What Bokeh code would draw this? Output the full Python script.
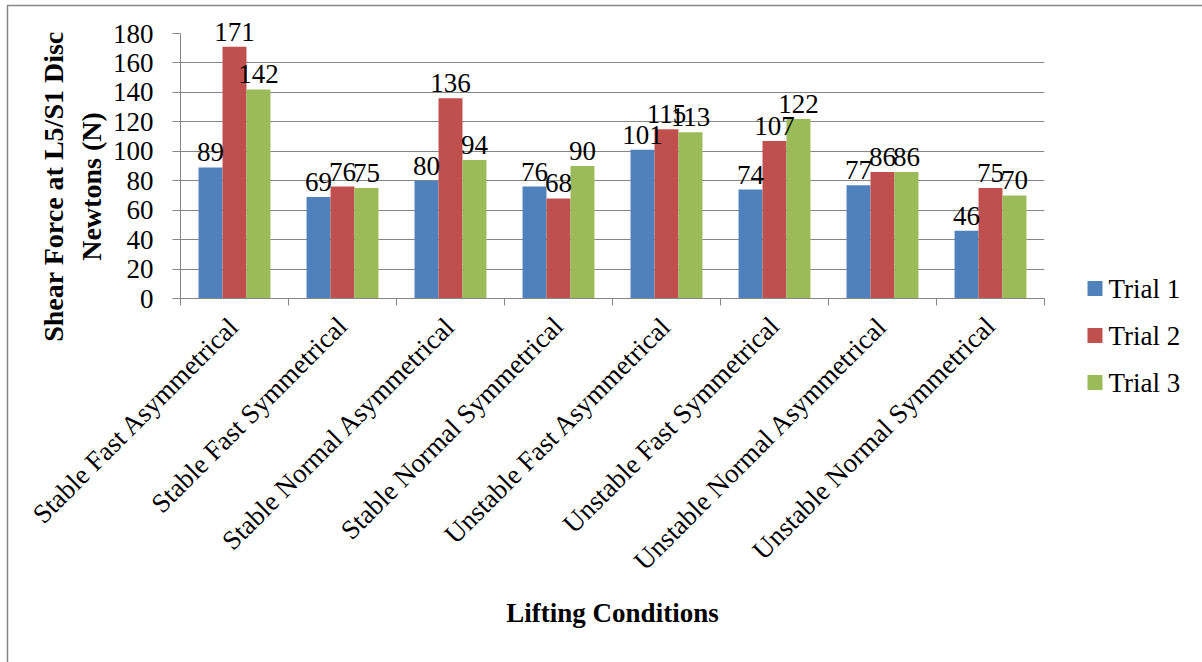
import math

from bokeh.plotting import figure
from bokeh.models import ColumnDataSource, Range1d, FixedTicker
from bokeh.transform import dodge
from bokeh.core.properties import value
from bokeh.embed import file_html
from bokeh.resources import INLINE

# Shear force at the L5/S1 disc (N) for each lifting condition and trial
conditions = [
    "Stable Fast Asymmetrical",
    "Stable Fast Symmetrical",
    "Stable Normal Asymmetrical",
    "Stable Normal Symmetrical",
    "Unstable Fast Asymmetrical",
    "Unstable Fast Symmetrical",
    "Unstable Normal Asymmetrical",
    "Unstable Normal Symmetrical",
]
trial_1 = [89, 69, 80, 76, 101, 74, 77, 46]
trial_2 = [171, 76, 136, 68, 115, 107, 86, 75]
trial_3 = [142, 75, 94, 90, 113, 122, 86, 70]
series_names = ["Trial 1", "Trial 2", "Trial 3"]
y_ticks = [0, 20, 40, 60, 80, 100, 120, 140, 160, 180]

FONT = "Liberation Serif"
GRAY = "#868686"
colors = ["#4F81BD", "#C0504D", "#9BBB59"]

W, H = 1202, 662
LEFT, RIGHT, TOP, BOTTOM = 180, 158, 33, 364
X0, X1 = 0.5, len(conditions) + 0.5
Y0, Y1 = 0, 180

positions = list(range(1, len(conditions) + 1))
src = ColumnDataSource(data=dict(
    pos=positions,
    t1=trial_1, t2=trial_2, t3=trial_3,
    l1=[str(v) for v in trial_1],
    l2=[str(v) for v in trial_2],
    l3=[str(v) for v in trial_3],
))

p = figure(width=W, height=H,
           x_range=Range1d(X0, X1), y_range=Range1d(Y0, Y1),
           output_backend="svg", toolbar_location=None,
           min_border_left=LEFT, min_border_right=RIGHT,
           min_border_top=TOP, min_border_bottom=BOTTOM)
p.background_fill_color = "white"
p.border_fill_color = "white"
p.outline_line_color = None

# pixel position on the canvas -> data coordinates (for decorations outside the frame)
fw = W - LEFT - RIGHT
fh = H - TOP - BOTTOM
def px_x(px):
    return X0 + (px - LEFT) * (X1 - X0) / fw
def px_y(py):
    return Y1 - (py - TOP) * (Y1 - Y0) / fh

bar_w = 0.222
offsets = [-bar_w, 0.0, bar_w]
for col, lab, off, c in zip(["t1", "t2", "t3"], ["l1", "l2", "l3"], offsets, colors):
    p.vbar(x=dodge("pos", off), top=col, width=bar_w, source=src,
           fill_color=c, line_color=None)
    # value labels above each bar; overlay level so they may pass the frame top
    p.text(x=dodge("pos", off), y=col, text=lab, source=src, level="overlay",
           y_offset=-15, text_align="center", text_baseline="alphabetic",
           text_font=value(FONT), text_font_size="27px", text_color="black")

# x axis: condition names at group centres, tick marks at group boundaries
xa = p.xaxis[0]
xa.ticker = FixedTicker(ticks=positions,
                        minor_ticks=[i + 0.5 for i in range(len(conditions) + 1)])
xa.major_label_overrides = {i: name for i, name in zip(positions, conditions)}
xa.major_label_orientation = math.pi / 4
xa.major_tick_in = 0
xa.major_tick_out = 0
xa.minor_tick_in = 0
xa.minor_tick_out = 7
xa.minor_tick_line_color = GRAY
xa.axis_line_color = GRAY
xa.major_label_text_font = FONT
xa.major_label_text_font_size = "27px"
xa.major_label_text_color = "black"
xa.major_label_standoff = 16
xa.axis_label = "Lifting Conditions"
xa.axis_label_text_font = FONT
xa.axis_label_text_font_size = "27px"
xa.axis_label_text_font_style = "bold"
xa.axis_label_text_color = "black"
xa.axis_label_standoff = 8

ya = p.yaxis[0]
ya.ticker = FixedTicker(ticks=y_ticks)
ya.major_tick_in = 0
ya.major_tick_out = 8
ya.minor_tick_line_color = None
ya.major_tick_line_color = GRAY
ya.axis_line_color = GRAY
ya.major_label_text_font = FONT
ya.major_label_text_font_size = "27px"
ya.major_label_text_color = "black"
ya.major_label_standoff = 19

p.xgrid.visible = False
p.ygrid.ticker = FixedTicker(ticks=y_ticks)
p.ygrid.grid_line_color = GRAY
p.ygrid.grid_line_width = 1

# two-line value-axis title
p.text(x=[px_x(72)], y=[px_y(186)], text=["Shear Force at L5/S1 Disc\nNewtons (N)"],
       angle=math.pi / 2, text_align="center", text_baseline="middle",
       text_font=value(FONT), text_font_size="28px", text_font_style="bold",
       text_color="black", level="overlay")

# legend to the right of the plot area: a 15 px colour key and the series name
legend_rows_px = [288 + 47 * i for i in range(len(series_names))]
for name, c, row in zip(series_names, colors, legend_rows_px):
    p.line(x=[px_x(1087), px_x(1102)], y=[px_y(row), px_y(row)],
           line_color=c, line_width=15, line_cap="butt", level="overlay")
leg = ColumnDataSource(data=dict(
    tx=[px_x(1108)] * len(series_names),
    y=[px_y(v) for v in legend_rows_px],
    name=series_names,
))
p.text(x="tx", y="y", text="name", source=leg, text_align="left", text_baseline="middle",
       text_font=value(FONT), text_font_size="27px", text_color="black", level="overlay")

# chart-area border (left and top edges fall inside the canvas)
p.line(x=[px_x(7), px_x(7), px_x(W + 50)], y=[px_y(H + 50), px_y(5), px_y(5)],
       line_color=GRAY, line_width=1.5, level="overlay")

open("out.html", "w").write(file_html(p, INLINE))
